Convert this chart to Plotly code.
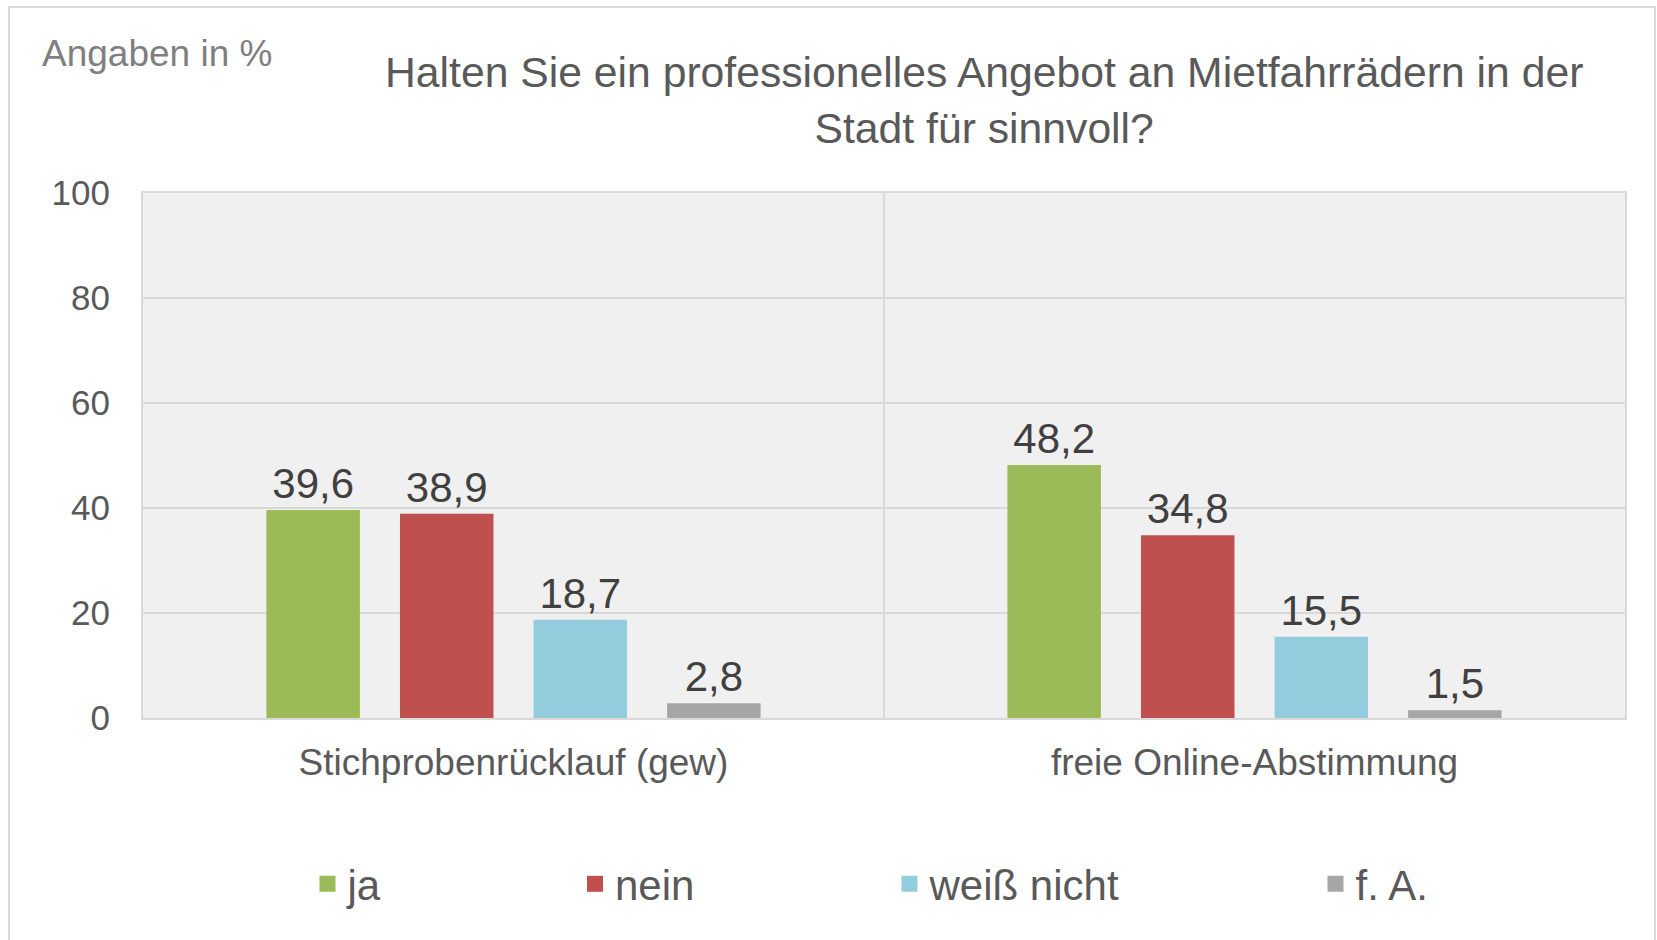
import plotly.graph_objects as go

# ---- data ----
categories = ["Stichprobenrücklauf (gew)", "freie Online-Abstimmung"]
series_names = ["ja", "nein", "weiß nicht", "f. A."]
ja = [39.6, 48.2]
nein = [38.9, 34.8]
weiss_nicht = [18.7, 15.5]
f_a = [2.8, 1.5]
y_ticks = [0, 20, 40, 60, 80, 100]
title_text = "Halten Sie ein professionelles Angebot an Mietfahrrädern in der<br>Stadt für sinnvoll?"
unit_text = "Angaben in %"

series_values = [ja, nein, weiss_nicht, f_a]
colors = ["#9bbb59", "#c0504d", "#93cddd", "#a6a6a6"]
legend_ids = ["legend", "legend2", "legend3", "legend4"]
FONT = "Liberation Sans, Arial, sans-serif"

W, H = 1657, 940
L, R, T, B = 143, 32, 193, 222
pw = W - L - R
ph = H - T - B

def px_x(p):
    return (p - L) / pw

def px_y(p):
    return (H - B - p) / ph

fig = go.Figure()
for name, vals, col, lg in zip(series_names, series_values, colors, legend_ids):
    fig.add_trace(go.Bar(
        x=categories, y=vals, name=name, legend=lg, legendgroup=name, showlegend=False,
        marker=dict(color=col, line=dict(width=0)),
        texttemplate="%{y:.1f}", textposition="outside",
        textfont=dict(size=42, color="#404040", family=FONT),
        constraintext="none", cliponaxis=False,
    ))
    # legend entry (square key)
    fig.add_trace(go.Scatter(
        x=[None], y=[None], mode="markers", name=name, legend=lg, legendgroup=name,
        marker=dict(symbol="square", size=21, color=col), showlegend=True,
    ))

legend_centers = [327.5, 595, 909.5, 1335.5]
legend_cfg = {}
for lg, c in zip(legend_ids, legend_centers):
    legend_cfg[lg] = dict(
        orientation="h", x=px_x(c - 20), xanchor="left",
        y=px_y(884), yanchor="middle",
        font=dict(size=42, color="#595959", family=FONT),
        bgcolor="rgba(0,0,0,0)", itemwidth=30, itemsizing="trace",
    )

fig.update_layout(
    width=W, height=H,
    margin=dict(l=L, r=R, t=T, b=B),
    paper_bgcolor="white", plot_bgcolor="#f0f0f0",
    font=dict(family=FONT, color="#595959"),
    barmode="group", bargap=0.279, bargroupgap=0.30,
    separators=",.", showlegend=True,
    **legend_cfg,
)
fig.update_xaxes(
    type="category", tickson="boundaries", showgrid=True, gridcolor="#d9d9d9", gridwidth=2,
    showline=True, linecolor="#d9d9d9", linewidth=2, mirror=True, ticks="",
    tickfont=dict(size=37, color="#595959"), ticklabelstandoff=11,
)
fig.update_yaxes(
    range=[0, 100], tickvals=y_ticks, showgrid=True, gridcolor="#d9d9d9", gridwidth=2,
    showline=True, linecolor="#d9d9d9", linewidth=2, mirror=True, ticks="",
    zeroline=False, tickfont=dict(size=35, color="#595959"), ticklabelstandoff=24,
)

fig.add_annotation(
    text=title_text, xref="paper", yref="paper", x=px_x(984), y=px_y(100),
    xanchor="center", yanchor="middle", showarrow=False, align="center",
    font=dict(size=42.7, color="#595959"),
)
fig.add_annotation(
    text=unit_text, xref="paper", yref="paper", x=px_x(40), y=px_y(53),
    xanchor="left", yanchor="middle", showarrow=False,
    font=dict(size=37, color="#7f7f7f"),
)
# outer chart frame
fig.add_shape(
    type="rect", xref="paper", yref="paper",
    x0=px_x(9), x1=px_x(1655), y0=px_y(960), y1=px_y(7),
    line=dict(color="#d9d9d9", width=2), fillcolor="rgba(0,0,0,0)", layer="below",
)

fig.write_html(
    "out.html",
    config={"displayModeBar": False},
    post_script="document.body.style.margin='0';document.body.style.overflow='hidden';",
)
